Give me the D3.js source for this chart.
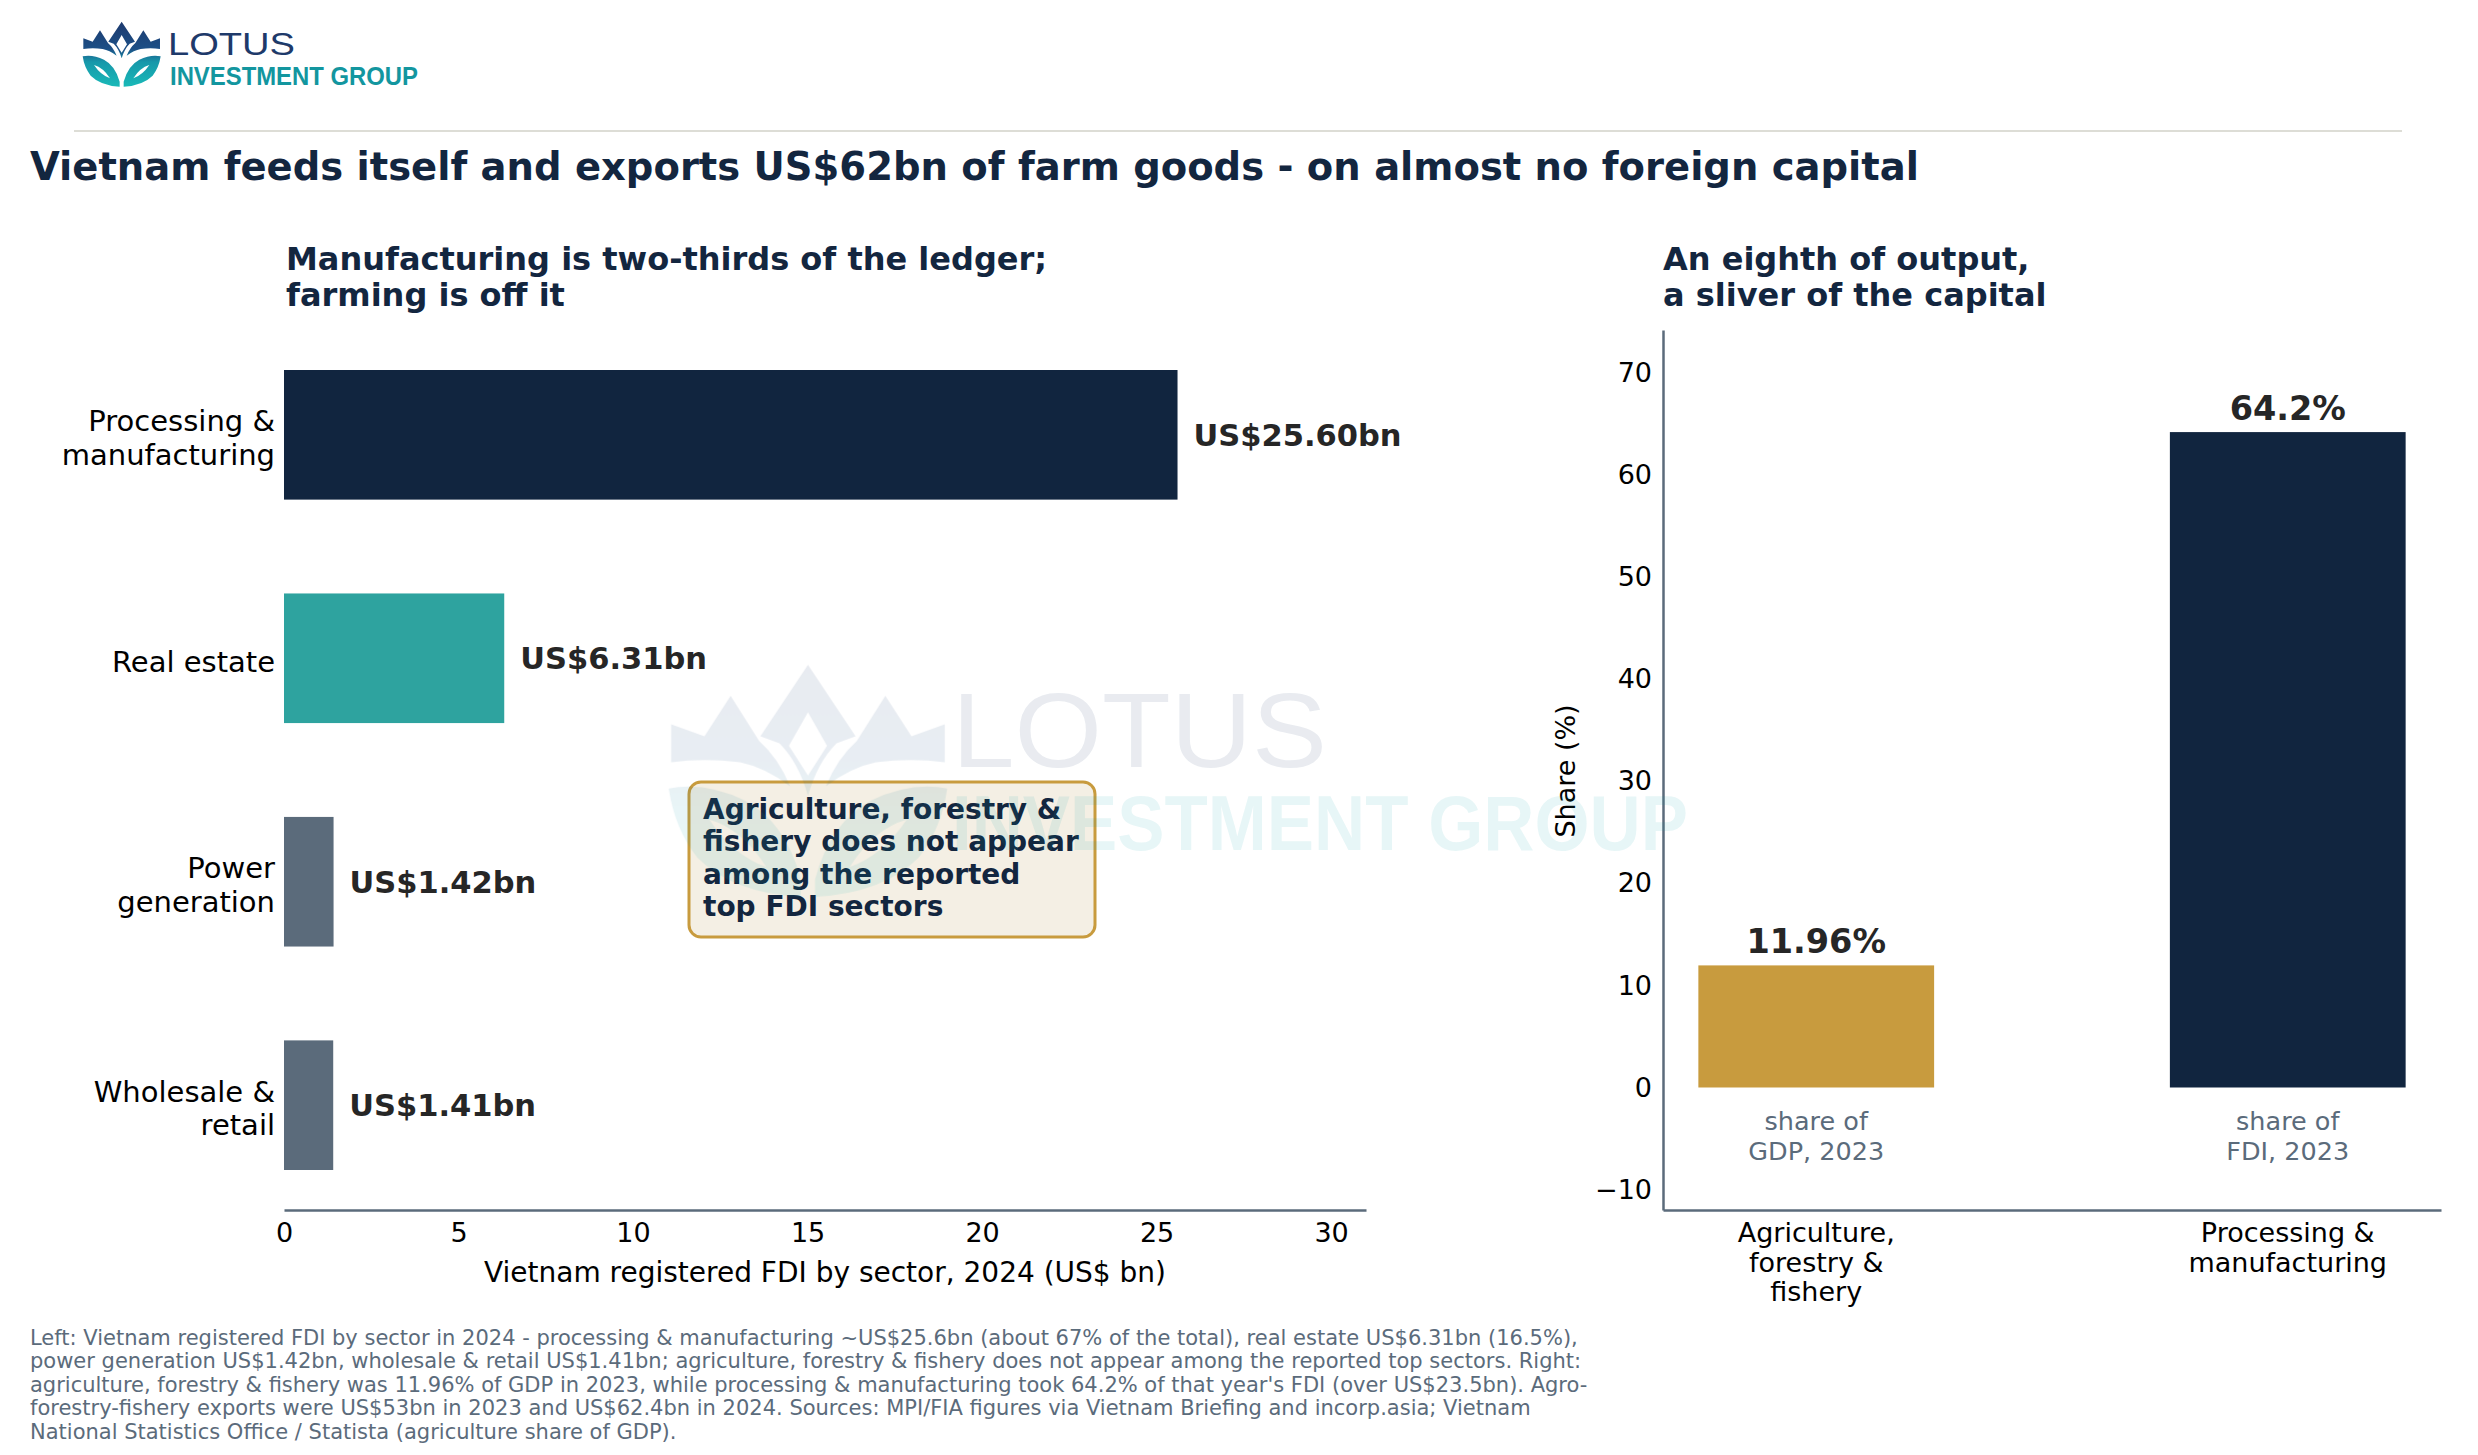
<!DOCTYPE html>
<html><head><meta charset="utf-8">
<script src="https://cdn.jsdelivr.net/npm/d3@7"></script>
<style>
html,body{margin:0;padding:0;background:#fff;}
svg{display:block;}
</style></head><body>
<svg id="chart" width="2478" height="1455"></svg>
<script>
// ---------------- data ----------------
const sectors = ["Processing &\nmanufacturing", "Real estate", "Power\ngeneration", "Wholesale &\nretail"];
const fdiValues = [25.60, 6.31, 1.42, 1.41];
const fdiTicks = [0, 5, 10, 15, 20, 25, 30];
const shareCategories = ["Agriculture,\nforestry &\nfishery", "Processing &\nmanufacturing"];
const shareValues = [11.96, 64.2];
const shareNotes = ["share of\nGDP, 2023", "share of\nFDI, 2023"];
const shareTicks = [-10, 0, 10, 20, 30, 40, 50, 60, 70];
const footnoteLines = [
  "Left: Vietnam registered FDI by sector in 2024 - processing & manufacturing ~US$25.6bn (about 67% of the total), real estate US$6.31bn (16.5%),",
  "power generation US$1.42bn, wholesale & retail US$1.41bn; agriculture, forestry & fishery does not appear among the reported top sectors. Right:",
  "agriculture, forestry & fishery was 11.96% of GDP in 2023, while processing & manufacturing took 64.2% of that year's FDI (over US$23.5bn). Agro-",
  "forestry-fishery exports were US$53bn in 2023 and US$62.4bn in 2024. Sources: MPI/FIA figures via Vietnam Briefing and incorp.asia; Vietnam",
  "National Statistics Office / Statista (agriculture share of GDP)."
];
const noteLines = ["Agriculture, forestry &", "fishery does not appear", "among the reported", "top FDI sectors"];

// ---------------- styles ----------------
const NAVY = "#11253F", TEAL = "#2EA39F", SLATE = "#5B6B7B", GOLD = "#C89B3E",
      INK = "#262626", TITLE = "#13263F";
const sectorColors = [NAVY, TEAL, SLATE, SLATE];
const shareColors = [GOLD, NAVY];
const FONT = "'DejaVu Sans', sans-serif";

const svg = d3.select("#chart");
svg.append("rect").attr("width", 2478).attr("height", 1455).attr("fill", "#fff");

function multiline(g, str, x, cy, lh, fs, attrs, shift) {
  const parts = str.split("\n");
  const b0 = cy - (parts.length - 1) / 2 * lh + 0.36 * fs + (shift || 0);
  const t = g.append("text").attr("font-size", fs).attr("font-family", FONT);
  Object.entries(attrs || {}).forEach(([k, v]) => t.attr(k, v));
  parts.forEach((s, i) => t.append("tspan").attr("x", x).attr("y", b0 + i * lh).text(s));
  return t;
}
function stacked(g, lines, x, b0, lh, fs, attrs) {
  const t = g.append("text").attr("font-size", fs).attr("font-family", FONT);
  Object.entries(attrs || {}).forEach(([k, v]) => t.attr(k, v));
  lines.forEach((s, i) => t.append("tspan").attr("x", x).attr("y", b0 + i * lh).text(s));
  return t;
}

// ---------------- logo icon ----------------
const defs = svg.append("defs");
const grad = defs.append("linearGradient").attr("id", "lotusGrad")
  .attr("gradientUnits", "userSpaceOnUse").attr("x1", 0).attr("y1", 20).attr("x2", 0).attr("y2", 215);
grad.append("stop").attr("offset", 0).attr("stop-color", "#1D3A6E");
grad.append("stop").attr("offset", 0.42).attr("stop-color", "#1C4F86");
grad.append("stop").attr("offset", 0.62).attr("stop-color", "#1798AA");
grad.append("stop").attr("offset", 1).attr("stop-color", "#19B9B8");

const halfPaths = [
  "M40,70 L68,80 L90,46 L114,84 Q130,98 140,122 Q118,106 98,102 Q68,98 40,102 Z",
  "M38,124 Q68,118 102,134 Q136,152 149,200 L149,215 Q92,212 62,182 Q43,158 38,124 Z M72,150 Q100,158 120,190 Q92,180 72,150 Z"
];
const centerPath = "M155,20 L195,80 L179,86 Q163,102 155,130 Q147,102 131,86 L115,80 Z M155,60 L171,88 L155,113 L139,88 Z";

function drawIcon(g) {
  g.append("path").attr("d", centerPath).attr("fill", "url(#lotusGrad)").attr("fill-rule", "evenodd");
  halfPaths.forEach(p => {
    g.append("path").attr("d", p).attr("fill", "url(#lotusGrad)").attr("fill-rule", "evenodd");
    g.append("path").attr("d", p).attr("fill", "url(#lotusGrad)").attr("fill-rule", "evenodd")
      .attr("transform", "matrix(-1,0,0,1,310,0)");
  });
}

// top-left logo
const logo = svg.append("g");
drawIcon(logo.append("g").attr("transform", "translate(70,15) scale(0.3333)"));
logo.append("text").attr("x", 168).attr("y", 55).attr("font-family", "'Liberation Sans', Arial, sans-serif")
  .attr("font-size", 32).attr("fill", "#1E3A6A").attr("textLength", 127).attr("lengthAdjust", "spacingAndGlyphs")
  .text("LOTUS");
logo.append("text").attr("x", 170).attr("y", 85).attr("font-family", "'Liberation Sans Narrow', 'Liberation Sans', sans-serif")
  .attr("font-weight", "bold").attr("font-size", 25).attr("fill", "#13969F").attr("textLength", 248)
  .attr("lengthAdjust", "spacingAndGlyphs").text("INVESTMENT GROUP");

// separator
svg.append("line").attr("x1", 74).attr("x2", 2402).attr("y1", 131).attr("y2", 131)
  .attr("stroke", "#DDDDD6").attr("stroke-width", 2);

// title
svg.append("text").attr("x", 30).attr("y", 180).attr("font-family", FONT).attr("font-weight", "bold")
  .attr("font-size", 38.5).attr("fill", TITLE)
  .text("Vietnam feeds itself and exports US$62bn of farm goods - on almost no foreign capital");

// ---------------- left panel ----------------
const left = svg.append("g");
const xL = d3.scaleLinear().domain([0, 31]).range([284, 1366]);
const yL = d3.scaleBand().domain(sectors).range([330, 1210]).paddingInner(0.42).paddingOuter(0.179);

stacked(left, ["Manufacturing is two-thirds of the ledger;", "farming is off it"], 286, 270, 35.7, 32,
  {"font-weight": "bold", fill: TITLE});

left.selectAll("rect.bar").data(fdiValues).join("rect").attr("class", "bar")
  .attr("x", xL(0)).attr("y", (d, i) => yL(sectors[i]))
  .attr("width", d => xL(d) - xL(0)).attr("height", yL.bandwidth())
  .attr("fill", (d, i) => sectorColors[i]);

const fmt2 = d3.format(".2f");
fdiValues.forEach((v, i) => {
  const cy = yL(sectors[i]) + yL.bandwidth() / 2;
  multiline(left, "US$" + fmt2(v) + "bn", xL(v) + 16, cy, 0, 30.5, {"font-weight": "bold", fill: INK});
  multiline(left, sectors[i], 275, cy, 33.5, 29, {"text-anchor": "end", fill: "#000"}, 3);
});

const axL = left.append("g").attr("transform", "translate(0,1210)")
  .call(d3.axisBottom(xL).tickValues(fdiTicks).tickSize(0).tickSizeOuter(0).tickPadding(13));
axL.attr("font-size", 27).attr("font-family", FONT);
axL.selectAll("text").attr("fill", "#000");
axL.select(".domain").attr("stroke", SLATE).attr("stroke-width", 2.5);

left.append("text").attr("x", (284 + 1366) / 2).attr("y", 1282).attr("text-anchor", "middle")
  .attr("font-family", FONT).attr("font-size", 28).attr("fill", "#000")
  .text("Vietnam registered FDI by sector, 2024 (US$ bn)");

// annotation box
const note = left.append("g");
note.append("rect").attr("x", 689).attr("y", 782).attr("width", 406).attr("height", 155)
  .attr("rx", 12).attr("fill", "#F4EFE4").attr("stroke", GOLD).attr("stroke-width", 3);
stacked(note, noteLines, 703, 819, 32.3, 28, {"font-weight": "bold", fill: TITLE});

// ---------------- right panel ----------------
const right = svg.append("g");
const xR = d3.scaleBand().domain(shareCategories).range([1663, 2441]).paddingInner(0.5).paddingOuter(0.075);
const yR = d3.scaleLinear().domain([-12, 74.2]).range([1210, 330]);

stacked(right, ["An eighth of output,", "a sliver of the capital"], 1663, 270, 35.7, 32,
  {"font-weight": "bold", fill: TITLE});

right.selectAll("rect.bar").data(shareValues).join("rect").attr("class", "bar")
  .attr("x", (d, i) => xR(shareCategories[i])).attr("width", xR.bandwidth())
  .attr("y", d => yR(d)).attr("height", d => yR(0) - yR(d))
  .attr("fill", (d, i) => shareColors[i]);

shareValues.forEach((v, i) => {
  const cx = xR(shareCategories[i]) + xR.bandwidth() / 2;
  right.append("text").attr("x", cx).attr("y", yR(v) - 12).attr("text-anchor", "middle")
    .attr("font-family", FONT).attr("font-weight", "bold").attr("font-size", 33.5).attr("fill", INK)
    .text(i === 0 ? fmt2(v) + "%" : d3.format(".1f")(v) + "%");
  stacked(right, shareNotes[i].split("\n"), cx, 1130, 29.5, 25.5, {"text-anchor": "middle", fill: SLATE});
  stacked(right, shareCategories[i].split("\n"), cx, 1242, 29.5, 27, {"text-anchor": "middle", fill: "#000"});
});

const axRy = right.append("g").attr("transform", "translate(1663,0)")
  .call(d3.axisLeft(yR).tickValues(shareTicks).tickSize(0).tickSizeOuter(0).tickPadding(11));
axRy.attr("font-size", 27).attr("font-family", FONT);
axRy.selectAll("text").attr("fill", "#000");
axRy.select(".domain").attr("stroke", SLATE).attr("stroke-width", 2.5);

const axRx = right.append("g").attr("transform", "translate(0,1210)")
  .call(d3.axisBottom(xR).tickSize(0).tickSizeOuter(0));
axRx.selectAll(".tick").remove();
axRx.select(".domain").attr("stroke", SLATE).attr("stroke-width", 2.5);

right.append("text").attr("transform", "translate(1575,771) rotate(-90)").attr("text-anchor", "middle")
  .attr("font-family", FONT).attr("font-size", 27).attr("fill", "#000").text("Share (%)");

// ---------------- footnote ----------------
stacked(svg, footnoteLines, 30, 1345, 23.4, 21, {fill: SLATE});

// ---------------- watermark (on top, faint) ----------------
const wm = svg.append("g").attr("opacity", 0.1).attr("pointer-events", "none");
drawIcon(wm.append("g").attr("transform", "translate(623.5,641) scale(1.19)"));
wm.append("text").attr("x", 952).attr("y", 767).attr("font-family", "'Liberation Sans', Arial, sans-serif")
  .attr("font-size", 105).attr("fill", "#1E3A6A").attr("textLength", 375).attr("lengthAdjust", "spacingAndGlyphs")
  .text("LOTUS");
wm.append("text").attr("x", 952).attr("y", 850).attr("font-family", "'Liberation Sans Narrow', 'Liberation Sans', sans-serif")
  .attr("font-weight", "bold").attr("font-size", 77).attr("fill", "#13A6AD").attr("textLength", 736)
  .attr("lengthAdjust", "spacingAndGlyphs").text("INVESTMENT GROUP");
</script>
</body></html>
